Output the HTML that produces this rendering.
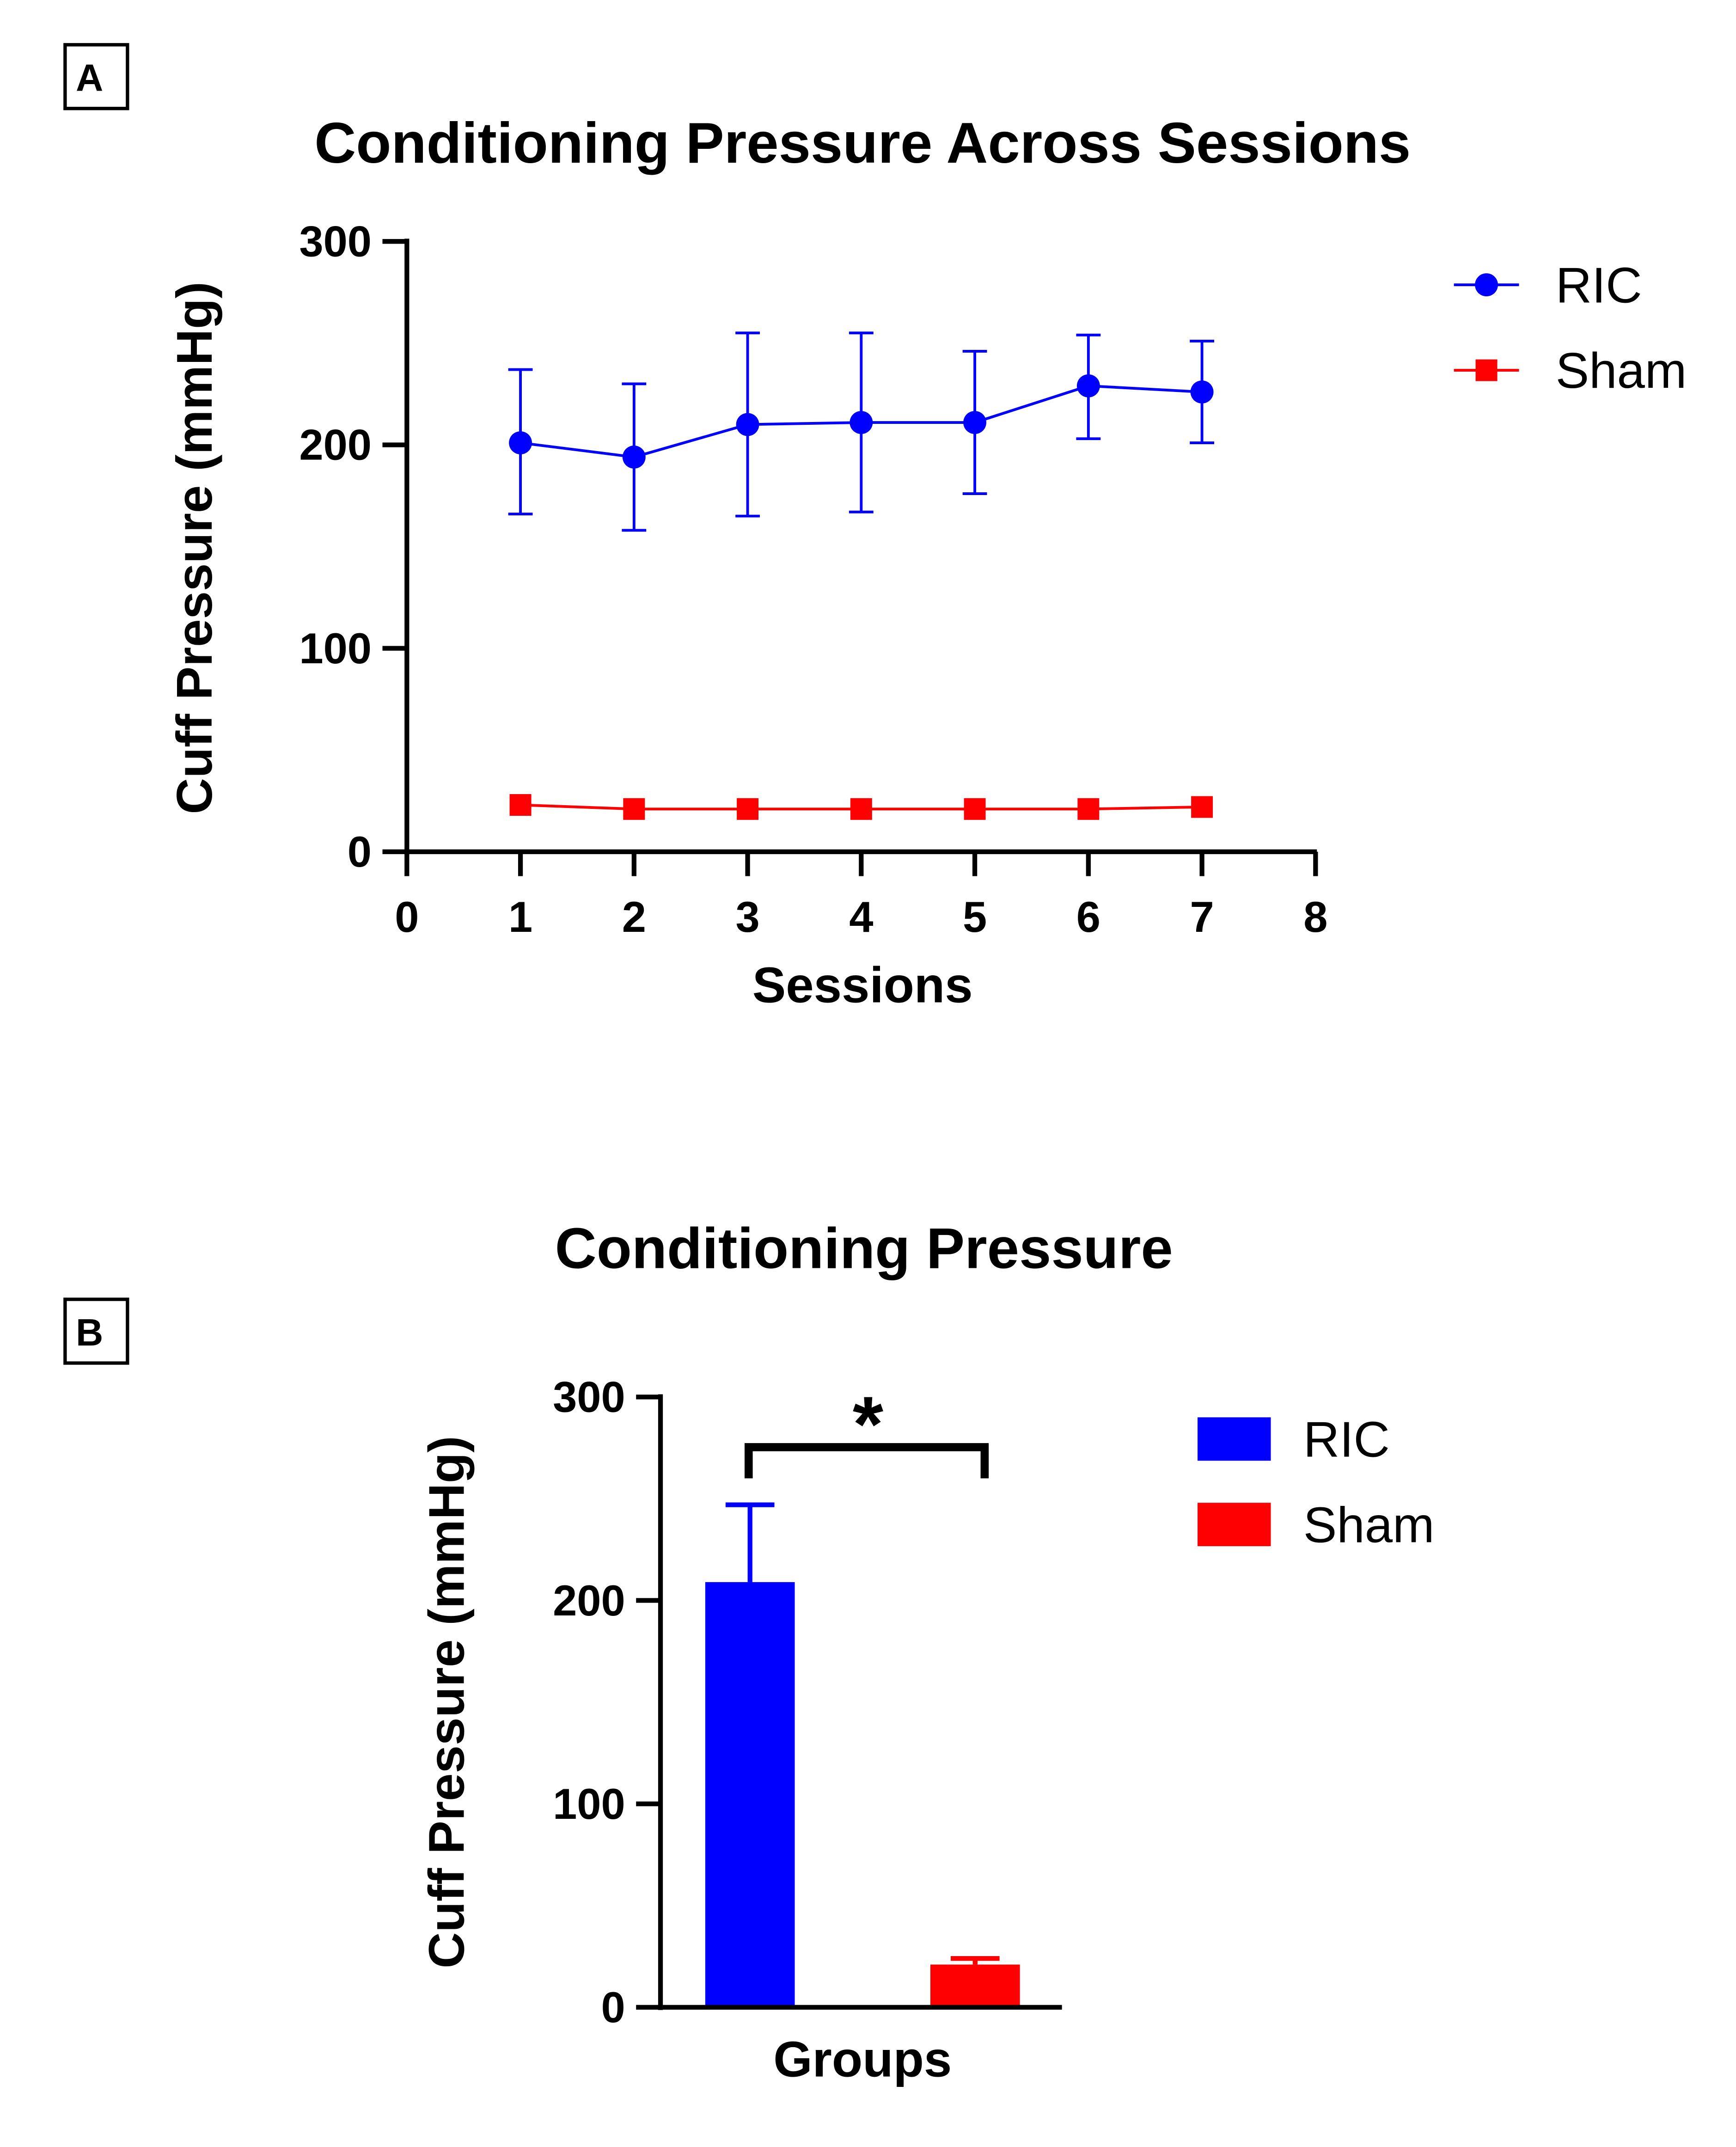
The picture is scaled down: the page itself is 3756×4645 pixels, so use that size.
<!DOCTYPE html>
<html><head><meta charset="utf-8"><style>
html,body{margin:0;padding:0;background:#fff;}
svg{display:block;font-family:"Liberation Sans",Arial,sans-serif;}
</style></head><body>
<svg id="fig" width="3756" height="4645" viewBox="0 0 1280 1583" preserveAspectRatio="none" xmlns="http://www.w3.org/2000/svg">
<rect width="1280" height="1583" fill="#fff"/>
<g id="pa"></g>
<g id="pb"></g>
</svg>
<script>
const sessions=[1,2,3,4,5,6,7];
const ricMean=[201,194,210,211,211,229,226];
const ricLow=[166,158,165,167,176,203,201];
const ricHigh=[237,230,255,255,246,254,251];
const shamMean=[23,21,21,21,21,21,22];
const xTicks=[0,1,2,3,4,5,6,7,8];
const yTicks=[0,100,200,300];
const groups=['RIC','Sham'];
const groupMean=[209,21];
const groupErr=[247,24];
const groupColors=['#0000ff','#ff0000'];

const NS='http://www.w3.org/2000/svg';
function mk(p,tag,attrs,text){const e=document.createElementNS(NS,tag);for(const k in attrs)e.setAttribute(k,attrs[k]);if(text!==undefined)e.textContent=text;p.appendChild(e);return e;}

// Panel A
const A=document.getElementById('pa');
const ax=v=>300+v*(670/8), ay=v=>628-v*1.5;
let e;
e=mk(A,'rect',{x:48,y:33,width:46,height:47,fill:'none',stroke:'#000','stroke-width':2.5});

e=mk(A,'text',{x:66,y:67,'text-anchor':'middle','font-size':28,'font-weight':'bold'},'A');

e=mk(A,'text',{x:636,y:120,'text-anchor':'middle','font-size':42.5,'font-weight':'bold'},'Conditioning Pressure Across Sessions');

e=mk(A,'line',{x1:300,y1:176,x2:300,y2:630,stroke:'#000','stroke-width':3.5});

e=mk(A,'line',{x1:298,y1:628,x2:971,y2:628,stroke:'#000','stroke-width':3.5});

yTicks.forEach(t=>{
 e=mk(A,'line',{x1:282,y1:ay(t),x2:300,y2:ay(t),stroke:'#000','stroke-width':3.5});
 
 e=mk(A,'text',{x:274,y:ay(t)+11,'text-anchor':'end','font-size':32,'font-weight':'bold'},t);
 
});
xTicks.forEach(t=>{
 e=mk(A,'line',{x1:ax(t),y1:628,x2:ax(t),y2:646,stroke:'#000','stroke-width':3.5});
 
 e=mk(A,'text',{x:ax(t),y:687,'text-anchor':'middle','font-size':32,'font-weight':'bold'},t);
 
});
e=mk(A,'text',{x:636,y:739,'text-anchor':'middle','font-size':37,'font-weight':'bold'},'Sessions');

e=mk(A,'text',{x:0,y:0,transform:'translate(156,404) rotate(-90)','text-anchor':'middle','font-size':37,'font-weight':'bold'},'Cuff Pressure (mmHg)');

e=mk(A,'polyline',{points:sessions.map((s,i)=>ax(s)+','+ay(ricMean[i])).join(' '),fill:'none',stroke:'#0000ff','stroke-width':2});

sessions.forEach((s,i)=>{
 const x=ax(s);
 e=mk(A,'path',{d:`M${x},${ay(ricLow[i])}V${ay(ricHigh[i])}M${x-9},${ay(ricLow[i])}H${x+9}M${x-9},${ay(ricHigh[i])}H${x+9}`,stroke:'#0000ff','stroke-width':2,fill:'none'});
 
 e=mk(A,'circle',{cx:x,cy:ay(ricMean[i]),r:8.5,fill:'#0000ff'});
 
});
e=mk(A,'polyline',{points:sessions.map((s,i)=>ax(s)+','+ay(shamMean[i])).join(' '),fill:'none',stroke:'#ff0000','stroke-width':2});

sessions.forEach((s,i)=>{
 e=mk(A,'rect',{x:ax(s)-8,y:ay(shamMean[i])-8,width:16,height:16,fill:'#ff0000'});
 
});
e=mk(A,'line',{x1:1072,y1:210,x2:1120,y2:210,stroke:'#0000ff','stroke-width':2});

e=mk(A,'circle',{cx:1096,cy:210,r:8.5,fill:'#0000ff'});

e=mk(A,'text',{x:1147,y:223,'font-size':37},'RIC');

e=mk(A,'line',{x1:1072,y1:273,x2:1120,y2:273,stroke:'#ff0000','stroke-width':2});

e=mk(A,'rect',{x:1088,y:265,width:16,height:16,fill:'#ff0000'});

e=mk(A,'text',{x:1147,y:286,'font-size':37},'Sham');


// Panel B
const B=document.getElementById('pb');
const by=v=>1480-v*1.5;
const barX=[553,719];
e=mk(B,'rect',{x:48,y:958,width:46,height:47,fill:'none',stroke:'#000','stroke-width':2.5});

e=mk(B,'text',{x:66,y:992,'text-anchor':'middle','font-size':28,'font-weight':'bold'},'B');

e=mk(B,'text',{x:637,y:935,'text-anchor':'middle','font-size':42.5,'font-weight':'bold'},'Conditioning Pressure');

groups.forEach((g,i)=>{
 const x=barX[i];
 e=mk(B,'path',{d:`M${x},${by(groupMean[i])}V${by(groupErr[i])}M${x-18},${by(groupErr[i])}H${x+18}`,stroke:groupColors[i],'stroke-width':3.5,fill:'none'});
 
 e=mk(B,'rect',{x:x-33,y:by(groupMean[i]),width:66,height:by(0)-by(groupMean[i]),fill:groupColors[i]});
 
});
e=mk(B,'line',{x1:487,y1:1028,x2:487,y2:1482,stroke:'#000','stroke-width':3.5});

e=mk(B,'line',{x1:485,y1:1480,x2:783,y2:1480,stroke:'#000','stroke-width':3.5});

yTicks.forEach(t=>{
 e=mk(B,'line',{x1:469,y1:by(t),x2:487,y2:by(t),stroke:'#000','stroke-width':3.5});
 
 e=mk(B,'text',{x:461,y:by(t)+11,'text-anchor':'end','font-size':32,'font-weight':'bold'},t);
 
});
e=mk(B,'text',{x:636,y:1531,'text-anchor':'middle','font-size':37,'font-weight':'bold'},'Groups');

e=mk(B,'text',{x:0,y:0,transform:'translate(342,1255) rotate(-90)','text-anchor':'middle','font-size':37,'font-weight':'bold'},'Cuff Pressure (mmHg)');

e=mk(B,'path',{d:'M552,1090V1067H726V1090',stroke:'#000','stroke-width':6,fill:'none'});

e=mk(B,'text',{x:640,y:1070,'text-anchor':'middle','font-size':58,'font-weight':'bold'},'*');

groups.forEach((g,i)=>{
 e=mk(B,'rect',{x:883,y:1045+i*63,width:54,height:32,fill:groupColors[i]});
 
 e=mk(B,'text',{x:961,y:1074+i*63,'font-size':37},g);
 
});
</script>
</body></html>
